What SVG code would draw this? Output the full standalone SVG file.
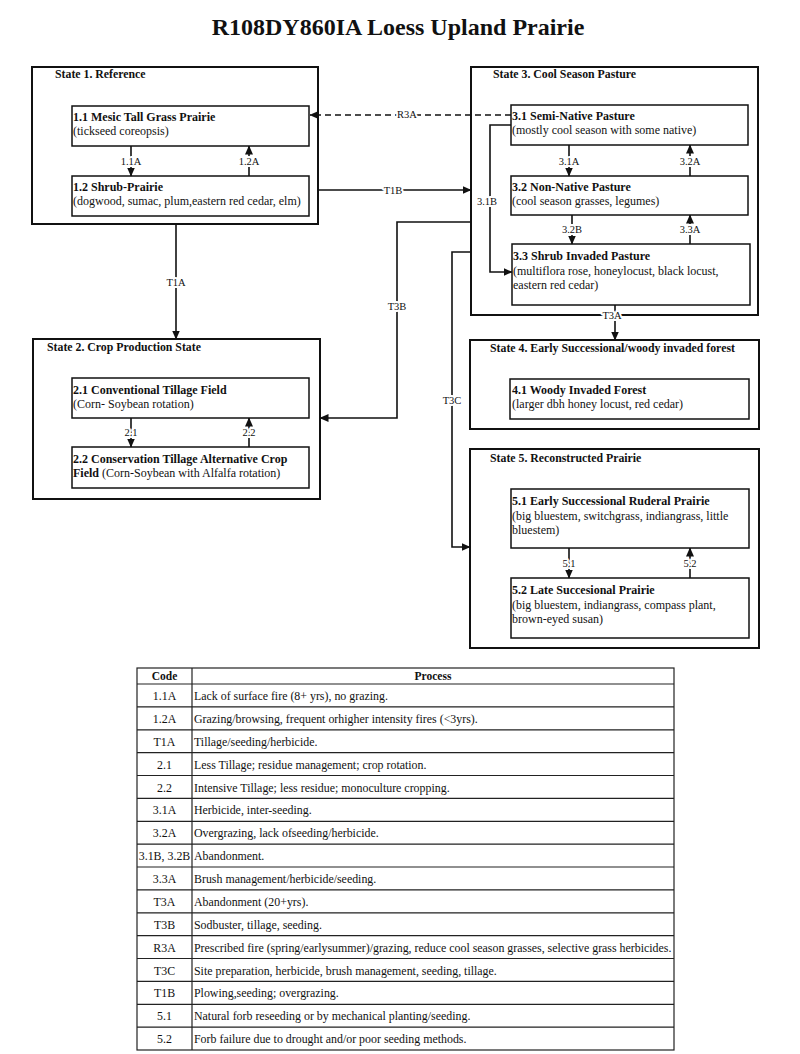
<svg xmlns="http://www.w3.org/2000/svg" width="800" height="1054" viewBox="0 0 800 1054">
<defs>
<marker id="ah" markerWidth="9" markerHeight="8" refX="8.5" refY="4" orient="auto" markerUnits="userSpaceOnUse">
<path d="M0,0 L9,4 L0,8 z" fill="#111"/>
</marker>
<style>
text{font-family:"Liberation Serif","Times New Roman",serif;fill:#111}
.title{font-size:24px;font-weight:bold}
.st{font-size:11.8px;font-weight:bold}
.nt{font-size:12px;font-weight:bold}
.ns{font-size:12px}
.el{font-size:10.5px;text-anchor:middle;stroke:#fff;stroke-width:4px;paint-order:stroke;stroke-linejoin:round}
.state{fill:#fff;stroke:#111;stroke-width:2}
.node{fill:#fff;stroke:#111;stroke-width:1.5}
.c{fill:none;stroke:#111;stroke-width:1.6}
.dash{stroke-dasharray:6,4}
.tb{fill:none;stroke:#222;stroke-width:1.2}
.th{font-size:11.5px;font-weight:bold;text-anchor:middle}
.tc{font-size:11.9px;text-anchor:middle}
.tp{font-size:11.9px}
</style>
</defs>
<rect width="800" height="1054" fill="#fff"/>
<text class="title" x="398" y="35" text-anchor="middle">R108DY860IA Loess Upland Prairie</text>

<g id="state1">
<rect class="state" x="32" y="67" width="286" height="157"/>
<text class="st" x="55" y="78">State 1. Reference</text>
</g>
<g id="node-1-1">
<rect class="node" x="72" y="106" width="237" height="40"/>
<text class="nt" x="73" y="121">1.1 Mesic Tall Grass Prairie</text>
<text class="ns" x="73" y="135">(tickseed coreopsis)</text>
</g>
<g id="node-1-2">
<rect class="node" x="72" y="176" width="237" height="40"/>
<text class="nt" x="73" y="191">1.2 Shrub-Prairie</text>
<text class="ns" x="73" y="205">(dogwood, sumac, plum,eastern red cedar, elm)</text>
</g>

<g id="state2">
<rect class="state" x="33" y="339" width="287" height="160"/>
<text class="st" x="47" y="351">State 2. Crop Production State</text>
</g>
<g id="node-2-1">
<rect class="node" x="72" y="378" width="237" height="40"/>
<text class="nt" x="73" y="394">2.1 Conventional Tillage Field</text>
<text class="ns" x="73" y="408">(Corn- Soybean rotation)</text>
</g>
<g id="node-2-2">
<rect class="node" x="72" y="447" width="237" height="41"/>
<text class="nt" x="73" y="463">2.2 Conservation Tillage Alternative Crop</text>
<text class="ns" x="73" y="477"><tspan font-weight="bold">Field</tspan> (Corn-Soybean with Alfalfa rotation)</text>
</g>

<g id="state3">
<rect class="state" x="471" y="67" width="287" height="248"/>
<text class="st" x="493" y="78">State 3. Cool Season Pasture</text>
</g>
<g id="node-3-1">
<rect class="node" x="511" y="105" width="237" height="40"/>
<text class="nt" x="512" y="120">3.1 Semi-Native Pasture</text>
<text class="ns" x="512" y="134">(mostly cool season with some native)</text>
</g>
<g id="node-3-2">
<rect class="node" x="511" y="176" width="237" height="39"/>
<text class="nt" x="512" y="191">3.2 Non-Native Pasture</text>
<text class="ns" x="512" y="205">(cool season grasses, legumes)</text>
</g>
<g id="node-3-3">
<rect class="node" x="512" y="244" width="238" height="61"/>
<text class="nt" x="513" y="260">3.3 Shrub Invaded Pasture</text>
<text class="ns" x="513" y="275">(multiflora rose, honeylocust, black locust,</text>
<text class="ns" x="513" y="289">eastern red cedar)</text>
</g>

<g id="state4">
<rect class="state" x="470" y="340" width="289" height="89"/>
<text class="st" x="490" y="352">State 4. Early Successional/woody invaded forest</text>
</g>
<g id="node-4-1">
<rect class="node" x="510" y="379" width="239" height="40"/>
<text class="nt" x="512" y="394">4.1 Woody Invaded Forest</text>
<text class="ns" x="512" y="408">(larger dbh honey locust, red cedar)</text>
</g>

<g id="state5">
<rect class="state" x="470" y="449" width="289" height="199"/>
<text class="st" x="490" y="462">State 5. Reconstructed Prairie</text>
</g>
<g id="node-5-1">
<rect class="node" x="511" y="489" width="238" height="59"/>
<text class="nt" x="512" y="505">5.1 Early Successional Ruderal Prairie</text>
<text class="ns" x="512" y="520">(big bluestem, switchgrass, indiangrass, little</text>
<text class="ns" x="512" y="534">bluestem)</text>
</g>
<g id="node-5-2">
<rect class="node" x="511" y="578" width="238" height="60"/>
<text class="nt" x="512" y="594">5.2 Late Succesional Prairie</text>
<text class="ns" x="512" y="609">(big bluestem, indiangrass, compass plant,</text>
<text class="ns" x="512" y="623">brown-eyed susan)</text>
</g>

<g id="connectors">
<line class="c" x1="131" y1="146" x2="131" y2="176" marker-end="url(#ah)"/>
<text class="el" x="131" y="165">1.1A</text>
<line class="c" x1="249" y1="176" x2="249" y2="146" marker-end="url(#ah)"/>
<text class="el" x="249" y="165">1.2A</text>
<line class="c" x1="176" y1="224" x2="176" y2="339" marker-end="url(#ah)"/>
<text class="el" x="176" y="286">T1A</text>
<line class="c" x1="131" y1="418" x2="131" y2="447" marker-end="url(#ah)"/>
<text class="el" x="131" y="436">2.1</text>
<line class="c" x1="249" y1="447" x2="249" y2="418" marker-end="url(#ah)"/>
<text class="el" x="249" y="436">2.2</text>
<line class="c dash" x1="511" y1="115" x2="310" y2="115" marker-end="url(#ah)"/>
<text class="el" x="407" y="118">R3A</text>
<line class="c" x1="318" y1="190" x2="471" y2="190" marker-end="url(#ah)"/>
<text class="el" x="393" y="194">T1B</text>
<path class="c" d="M471,222 H397 V418 H320" marker-end="url(#ah)"/>
<text class="el" x="397" y="310">T3B</text>
<path class="c" d="M471,252 H452 V547 H470" marker-end="url(#ah)"/>
<text class="el" x="452" y="404">T3C</text>
<path class="c" d="M511,125 H490 V272 H512" marker-end="url(#ah)"/>
<text class="el" x="487" y="205">3.1B</text>
<line class="c" x1="569" y1="145" x2="569" y2="176" marker-end="url(#ah)"/>
<text class="el" x="569" y="165">3.1A</text>
<line class="c" x1="690" y1="176" x2="690" y2="145" marker-end="url(#ah)"/>
<text class="el" x="690" y="165">3.2A</text>
<line class="c" x1="572" y1="215" x2="572" y2="244" marker-end="url(#ah)"/>
<text class="el" x="572" y="233">3.2B</text>
<line class="c" x1="690" y1="244" x2="690" y2="215" marker-end="url(#ah)"/>
<text class="el" x="690" y="233">3.3A</text>
<line class="c" x1="615" y1="305" x2="615" y2="340" marker-end="url(#ah)"/>
<text class="el" x="612" y="319">T3A</text>
<line class="c" x1="569" y1="548" x2="569" y2="578" marker-end="url(#ah)"/>
<text class="el" x="569" y="567">5.1</text>
<line class="c" x1="690" y1="578" x2="690" y2="548" marker-end="url(#ah)"/>
<text class="el" x="690" y="567">5.2</text>
</g>

<g id="table">
<rect class="tb" x="137" y="668" width="537" height="382"/>
<line class="tb" x1="192" y1="668" x2="192" y2="1050"/>
<path class="tb" d="M137,684H674 M137,706.9H674 M137,729.8H674 M137,752.6H674 M137,775.5H674 M137,798.4H674 M137,821.3H674 M137,844.1H674 M137,867H674 M137,889.9H674 M137,912.8H674 M137,935.6H674 M137,958.5H674 M137,981.4H674 M137,1004.3H674 M137,1027.1H674"/>
<text class="th" x="164.5" y="680">Code</text>
<text class="th" x="433" y="680">Process</text>
<g class="rows">
<text class="tc" x="164.5" y="700">1.1A</text><text class="tp" x="194" y="700">Lack of surface fire (8+ yrs), no grazing.</text>
<text class="tc" x="164.5" y="722.9">1.2A</text><text class="tp" x="194" y="722.9">Grazing/browsing, frequent orhigher intensity fires (&lt;3yrs).</text>
<text class="tc" x="164.5" y="745.8">T1A</text><text class="tp" x="194" y="745.8">Tillage/seeding/herbicide.</text>
<text class="tc" x="164.5" y="768.6">2.1</text><text class="tp" x="194" y="768.6">Less Tillage; residue management; crop rotation.</text>
<text class="tc" x="164.5" y="791.5">2.2</text><text class="tp" x="194" y="791.5">Intensive Tillage; less residue; monoculture cropping.</text>
<text class="tc" x="164.5" y="814.4">3.1A</text><text class="tp" x="194" y="814.4">Herbicide, inter-seeding.</text>
<text class="tc" x="164.5" y="837.3">3.2A</text><text class="tp" x="194" y="837.3">Overgrazing, lack ofseeding/herbicide.</text>
<text class="tc" x="164.5" y="860.1">3.1B, 3.2B</text><text class="tp" x="194" y="860.1">Abandonment.</text>
<text class="tc" x="164.5" y="883">3.3A</text><text class="tp" x="194" y="883">Brush management/herbicide/seeding.</text>
<text class="tc" x="164.5" y="905.9">T3A</text><text class="tp" x="194" y="905.9">Abandonment (20+yrs).</text>
<text class="tc" x="164.5" y="928.8">T3B</text><text class="tp" x="194" y="928.8">Sodbuster, tillage, seeding.</text>
<text class="tc" x="164.5" y="951.6">R3A</text><text class="tp" x="194" y="951.6">Prescribed fire (spring/earlysummer)/grazing, reduce cool season grasses, selective grass herbicides.</text>
<text class="tc" x="164.5" y="974.5">T3C</text><text class="tp" x="194" y="974.5">Site preparation, herbicide, brush management, seeding, tillage.</text>
<text class="tc" x="164.5" y="997.4">T1B</text><text class="tp" x="194" y="997.4">Plowing,seeding; overgrazing.</text>
<text class="tc" x="164.5" y="1020.3">5.1</text><text class="tp" x="194" y="1020.3">Natural forb reseeding or by mechanical planting/seeding.</text>
<text class="tc" x="164.5" y="1043.1">5.2</text><text class="tp" x="194" y="1043.1">Forb failure due to drought and/or poor seeding methods.</text>
</g>
</g>
</svg>
